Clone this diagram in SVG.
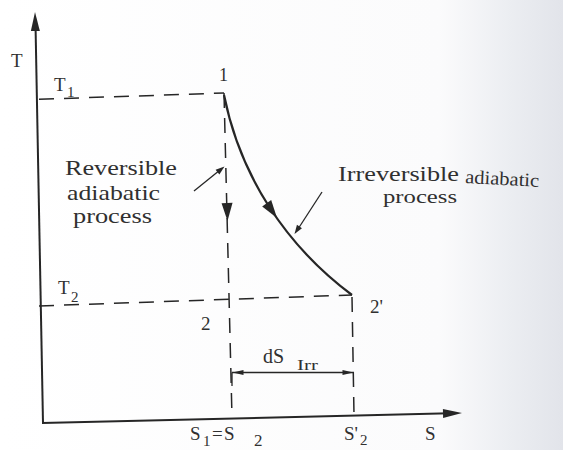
<svg xmlns="http://www.w3.org/2000/svg" xmlns:xlink="http://www.w3.org/1999/xlink" width="563" height="450" viewBox="0 0 563 450">
  <defs>
    <linearGradient id="paper" x1="0" y1="0" x2="1" y2="0">
      <stop offset="0" stop-color="#ffffff"/>
      <stop offset="0.78" stop-color="#fbfbfc"/>
      <stop offset="0.9" stop-color="#eceef2"/>
      <stop offset="1" stop-color="#e2e4ea"/>
    </linearGradient>
    <polygon id="ahBig" points="0,0 -19,-4.5 -19,4.5"/>
    <polygon id="ahMid" points="0,0 -18,-5.5 -18,5.5"/>
    <polygon id="ahSmall" points="0,0 -9,-3 -9,3"/>
    <polygon id="ahDim" points="0,0 -11,-2.6 -11,2.6"/>
  </defs>
  <style>
    .ln { stroke: #262626; fill: none; }
    .axis { stroke-width: 2; }
    .dash { stroke-width: 1.5; stroke-dasharray: 15 10; }
    .curve { stroke-width: 2.2; }
    .thin { stroke-width: 1.3; }
    .head { fill: #262626; stroke: none; }
    text { font-family: "Liberation Serif", "Times New Roman", serif; fill: #303030; }
    .lbl { font-size: 19px; }
    .sub { font-size: 15px; }
    .desc { font-size: 21px; }
  </style>

  <rect x="0" y="0" width="563" height="450" fill="url(#paper)"/>

  <g id="axes">
    <line class="ln axis" x1="43" y1="423" x2="35.5" y2="24"/>
    <use href="#ahBig" class="head" transform="translate(35,12) rotate(-91.1)"/>
    <line class="ln axis" x1="42" y1="423" x2="450" y2="413.3"/>
    <use href="#ahBig" class="head" transform="translate(462,413) rotate(-1.4)"/>
    <text class="lbl" x="11" y="67">T</text>
    <text class="lbl" x="425" y="440">S</text>
  </g>

  <g id="connectors">
    <line class="ln dash" x1="39" y1="99.3" x2="224" y2="93"/>
    <line class="ln dash" x1="39" y1="306" x2="352" y2="295"/>
    <line class="ln dash" x1="224" y1="93" x2="232" y2="417"/>
    <line class="ln dash" x1="352" y1="297" x2="354" y2="415"/>
    <path class="ln curve" d="M224,95 C240,175 285,245 352,295"/>
    <use href="#ahMid" class="head" transform="translate(277,218) rotate(55)"/>
    <use href="#ahMid" class="head" transform="translate(227.5,221) rotate(88.6)"/>
    <line class="ln thin" x1="194" y1="191" x2="220" y2="170"/>
    <use href="#ahSmall" class="head" transform="translate(224.5,166.5) rotate(-38.7)"/>
    <line class="ln thin" x1="322" y1="192" x2="298" y2="229"/>
    <use href="#ahSmall" class="head" transform="translate(294.5,234) rotate(123.4)"/>
    <line class="ln thin" x1="232" y1="372.5" x2="354" y2="372.5"/>
    <line class="ln thin" x1="232" y1="372.5" x2="232" y2="386"/>
    <use href="#ahDim" class="head" transform="translate(232.5,372.5) rotate(180)"/>
    <use href="#ahDim" class="head" transform="translate(353.5,372.5)"/>
  </g>

  <g id="point-1">
    <text x="219" y="81" font-size="18">1</text>
  </g>
  <g id="point-2">
    <text x="201" y="330" font-size="19">2</text>
  </g>
  <g id="point-2prime">
    <text x="370" y="313" font-size="19">2'</text>
  </g>

  <g id="label-T1">
    <text class="lbl" x="54" y="91">T</text>
    <text class="sub" x="67" y="97">1</text>
  </g>
  <g id="label-T2">
    <text class="lbl" x="58" y="294" font-size="18">T</text>
    <text class="sub" x="71" y="302">2</text>
  </g>

  <g id="label-reversible">
    <text class="desc" x="65" y="175" textLength="112" lengthAdjust="spacingAndGlyphs">Reversible</text>
    <text class="desc" x="67" y="200" textLength="93" lengthAdjust="spacingAndGlyphs">adiabatic</text>
    <text class="desc" x="73" y="223" textLength="79" lengthAdjust="spacingAndGlyphs">process</text>
  </g>

  <g id="label-irreversible">
    <text x="338" y="181" font-size="20" textLength="121" lengthAdjust="spacingAndGlyphs">Irreversible</text>
    <text x="465" y="183" font-size="19" textLength="74" lengthAdjust="spacingAndGlyphs" transform="rotate(3 465 183)">adiabatic</text>
    <text x="383" y="203" font-size="19" textLength="74" lengthAdjust="spacingAndGlyphs">process</text>
  </g>

  <g id="label-dS">
    <text x="263" y="363" font-size="20">dS</text>
    <text x="297" y="370" font-size="15" textLength="21" lengthAdjust="spacingAndGlyphs">Irr</text>
  </g>

  <g id="label-S1S2">
    <text class="lbl" x="190" y="440">S</text>
    <text class="sub" x="203" y="446">1</text>
    <text class="lbl" x="212" y="440">=</text>
    <text class="lbl" x="224" y="440">S</text>
    <text x="254" y="446" font-size="17">2</text>
  </g>
  <g id="label-S2prime">
    <text class="lbl" x="344" y="440">S'</text>
    <text class="sub" x="360" y="445">2</text>
  </g>
</svg>
